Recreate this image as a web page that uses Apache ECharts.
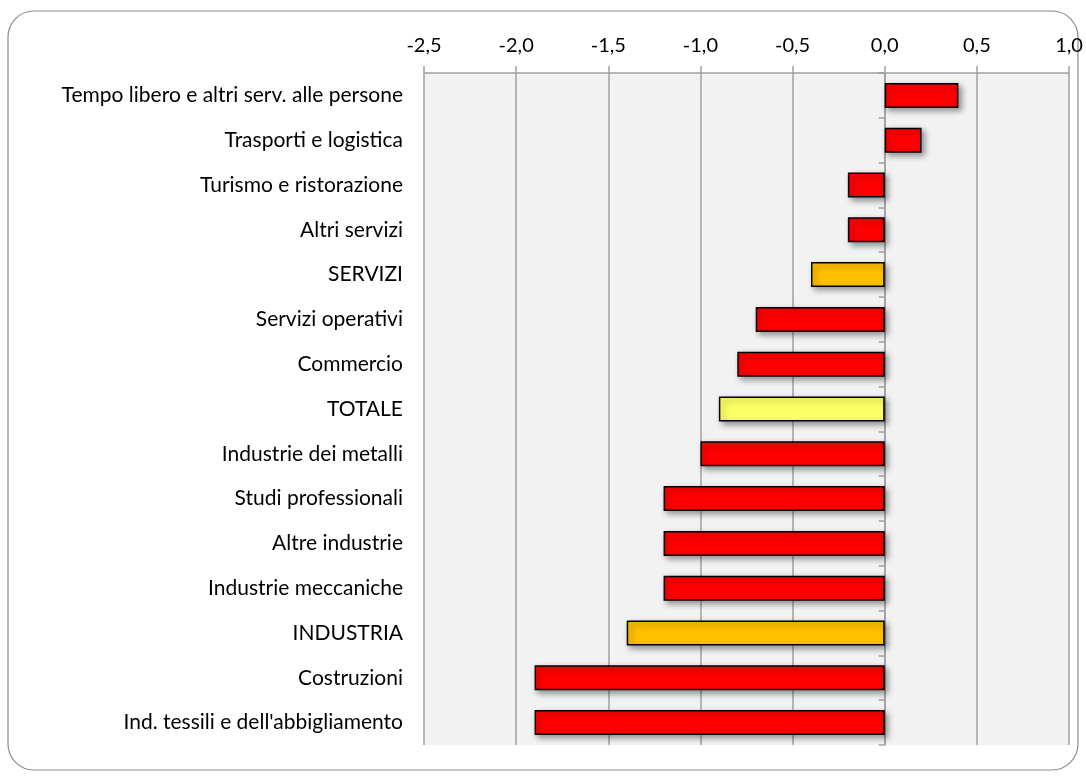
<!DOCTYPE html>
<html>
<head>
<meta charset="utf-8">
<script src="https://cdn.jsdelivr.net/npm/echarts@6/dist/echarts.min.js"></script>
<style>
  html, body { margin: 0; padding: 0; background: #fff; }
  #main { width: 1086px; height: 776px; }
</style>
</head>
<body>
<div id="main"></div>
<script>
var categories = [
    "Tempo libero e altri serv. alle persone",
    "Trasporti e logistica",
    "Turismo e ristorazione",
    "Altri servizi",
    "SERVIZI",
    "Servizi operativi",
    "Commercio",
    "TOTALE",
    "Industrie dei metalli",
    "Studi professionali",
    "Altre industrie",
    "Industrie meccaniche",
    "INDUSTRIA",
    "Costruzioni",
    "Ind. tessili e dell'abbigliamento"
];
var values = [0.4, 0.2, -0.2, -0.2, -0.4, -0.7, -0.8, -0.9, -1.0, -1.2, -1.2, -1.2, -1.4, -1.9, -1.9];
// tipo di riga: settore, macro-settore o totale
var kinds = ["s", "s", "s", "s", "m", "s", "s", "t", "s", "s", "s", "s", "m", "s", "s"];

var kindColor = { s: "#ff0000", m: "#ffc000", t: "#ffff66" };

var chartDom = document.getElementById("main");
var myChart = echarts.init(chartDom);

var seriesData = values.map(function (v, i) {
    return {
        value: v,
        itemStyle: { color: kindColor[kinds[i]] }
    };
});

var option = {
    animation: false,
    textStyle: { fontFamily: "Lato" },
    graphic: [
        {
            type: "rect",
            shape: { x: 8, y: 11, width: 1070, height: 759, r: 26 },
            style: { fill: "none", stroke: "#8c8c8c", lineWidth: 1.2 },
            z: -10
        }
    ],
    grid: {
        left: 424,
        right: 17,
        top: 73,
        bottom: 31,
        show: true,
        backgroundColor: "#f2f2f2",
        borderWidth: 0
    },
    xAxis: {
        type: "value",
        position: "top",
        min: -2.5,
        max: 1.0,
        interval: 0.5,
        axisLine: { show: true, lineStyle: { color: "#a0a0a0", width: 1.5 } },
        axisTick: { show: true, length: 7, lineStyle: { color: "#a0a0a0", width: 1.5 } },
        splitLine: { show: true, lineStyle: { color: "#a0a0a0", width: 1.5 } },
        axisLabel: {
            color: "#000",
            fontSize: 20,
            margin: 17,
            formatter: function (v) { return v.toFixed(1).replace(".", ","); }
        }
    },
    yAxis: [
        {
            type: "category",
            data: categories,
            inverse: true,
            position: "left",
            axisLine: { show: false, onZero: false },
            axisTick: { show: false },
            axisLabel: { color: "#000", fontSize: 21, margin: 21 }
        },
        {
            type: "category",
            data: categories,
            inverse: true,
            position: "left",
            axisLine: { show: true, onZero: true, onZeroAxisIndex: 0, lineStyle: { color: "#a0a0a0", width: 1.5 } },
            axisTick: { show: true, length: 6, lineStyle: { color: "#a0a0a0", width: 1.5 } },
            axisLabel: { show: false },
            splitLine: { show: false }
        }
    ],
    series: [
        {
            type: "bar",
            yAxisIndex: 0,
            data: seriesData,
            barWidth: 25,
            itemStyle: {
                borderColor: "#000",
                borderWidth: 1.5,
                shadowBlur: 6,
                shadowOffsetX: 3,
                shadowOffsetY: 3,
                shadowColor: "rgba(0,0,0,0.4)"
            }
        }
    ]
};
myChart.setOption(option);
</script>
</body>
</html>
